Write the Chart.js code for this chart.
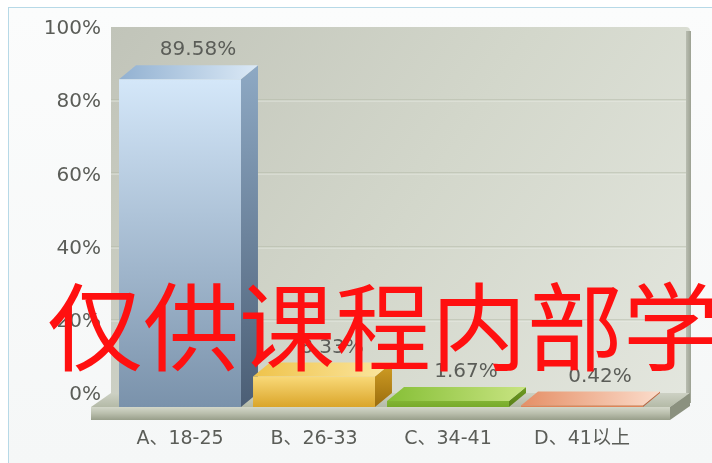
<!DOCTYPE html>
<html><head><meta charset="utf-8">
<script src="https://cdn.jsdelivr.net/npm/chart.js@4.4.1/dist/chart.umd.min.js"></script>
<style>
html,body{margin:0;padding:0;background:#fff;}
#wrap{position:relative;width:712px;height:463px;overflow:hidden;}
#frame{position:absolute;left:8px;top:7px;right:0;bottom:0;border-left:1px solid #b7d9e7;border-top:1px solid #b7d9e7;background:linear-gradient(#fbfcfc,#f5f7f7);}
#c{position:absolute;left:0;top:0;}
#wm{position:absolute;left:47px;top:274px;font:96px/1 "Noto Sans CJK SC",sans-serif;color:#ff1010;white-space:nowrap;pointer-events:none;}
</style></head><body>
<div id="wrap"><div id="frame"></div><canvas id="c" width="712" height="463"></canvas><div id="wm">仅供课程内部学</div></div>
<script>
const categories = ['A、18-25', 'B、26-33', 'C、34-41', 'D、41以上'];
const percentages = [89.58, 8.33, 1.67, 0.42];
const valueLabels = ['89.58%', '8.33%', '1.67%', '0.42%'];
const yTickValues = [0, 20, 40, 60, 80, 100];

const DX = 17, DY = -14;
const FONT = '"DejaVu Sans", "Noto Sans CJK SC", sans-serif';
const palette = [
  {front:['#d4e7f9','#7a92ab'], side:['#8ea9c4','#4b5e75'], top:['#92b1d1','#dbe9f6']},
  {front:['#f9d978','#daa52a'], side:['#d29f25','#9b6d0d'], top:['#efc34a','#fbe7a2']},
  {front:['#9ccc4a','#77aa2a'], side:['#6e9d22','#587f18'], top:['#86bf36','#c8e482']},
  {front:['#eea27c','#df8457'], side:['#c9704a','#b05f3e'], top:['#e58f66','#fbdccb']}
];

function frontColor(c) {
  const chart = c.chart;
  const p = palette[c.dataIndex];
  if (!chart.chartArea || !chart.scales.y) return p.front[1];
  const ys = chart.scales.y;
  const top = ys.getPixelForValue(percentages[c.dataIndex]);
  const bot = ys.getPixelForValue(0);
  const g = chart.ctx.createLinearGradient(0, Math.min(top, bot - 20), 0, bot);
  g.addColorStop(0, p.front[0]);
  g.addColorStop(1, p.front[1]);
  return g;
}

const scene3d = {
  id: 'scene3d',
  beforeDraw(chart) {
    const ctx = chart.ctx, a = chart.chartArea, ys = chart.scales.y;
    const L = a.left - 2, R = a.right + 41;
    const T = ys.getPixelForValue(100) + DY, B = ys.getPixelForValue(0) + DY;
    ctx.save();
    const g = ctx.createLinearGradient(L, T, R, B + 30);
    g.addColorStop(0, '#c1c4b9');
    g.addColorStop(0.5, '#d3d7cb');
    g.addColorStop(1, '#e4e7df');
    ctx.fillStyle = g;
    ctx.beginPath();
    ctx.moveTo(L, T);
    ctx.lineTo(R - 4, T);
    ctx.quadraticCurveTo(R, T, R, T + 4);
    ctx.lineTo(R, B + 10);
    ctx.lineTo(L, B + 10);
    ctx.closePath();
    ctx.fill();
    const sg = ctx.createLinearGradient(R - 4, 0, R + 1, 0);
    sg.addColorStop(0, '#b9bdb1');
    sg.addColorStop(1, '#9da293');
    ctx.fillStyle = sg;
    ctx.fillRect(R - 4, T + 4, 5, B - T + 6);
    yTickValues.forEach(v => {
      if (v === 0 || v === 100) return;
      const y = Math.round(ys.getPixelForValue(v) + DY) + 0.5;
      ctx.strokeStyle = '#b3b9a7';
      ctx.lineWidth = 1;
      ctx.beginPath(); ctx.moveTo(L, y - 0.5); ctx.lineTo(R - 4, y - 0.5); ctx.stroke();
      ctx.strokeStyle = 'rgba(240,242,236,0.7)';
      ctx.beginPath(); ctx.moveTo(L, y + 0.5); ctx.lineTo(R - 4, y + 0.5); ctx.stroke();
    });
    const FB = ys.getPixelForValue(0);
    const FL = a.left - 22, FR = a.right + 21;
    const ft = ctx.createLinearGradient(0, B, 0, FB);
    ft.addColorStop(0, '#cdd1c4');
    ft.addColorStop(1, '#b4baa7');
    ctx.fillStyle = ft;
    ctx.beginPath();
    ctx.moveTo(FL, FB); ctx.lineTo(FL + 20, B); ctx.lineTo(R, B); ctx.lineTo(FR, FB);
    ctx.closePath(); ctx.fill();
    const ff = ctx.createLinearGradient(0, FB, 0, FB + 13);
    ff.addColorStop(0, '#d3d7c9');
    ff.addColorStop(0.5, '#b9beac');
    ff.addColorStop(1, '#989e8a');
    ctx.fillStyle = ff;
    ctx.fillRect(FL, FB, FR - FL, 13);
    ctx.fillStyle = '#8b917f';
    ctx.beginPath();
    ctx.moveTo(FR, FB); ctx.lineTo(R, B); ctx.lineTo(R, B + 13); ctx.lineTo(FR, FB + 13);
    ctx.closePath(); ctx.fill();
    ctx.restore();
  },
  beforeDatasetsDraw(chart) {
    const ctx = chart.ctx;
    const meta = chart.getDatasetMeta(0);
    ctx.save();
    meta.data.forEach((el, i) => {
      const p = palette[i];
      const w = el.width, xl = el.x - w / 2, xr = el.x + w / 2;
      const yt = el.y, yb = el.base;
      const sg = ctx.createLinearGradient(0, yt + DY, 0, yb);
      sg.addColorStop(0, p.side[0]);
      sg.addColorStop(1, p.side[1]);
      ctx.fillStyle = sg;
      ctx.beginPath();
      ctx.moveTo(xr, yt); ctx.lineTo(xr + DX, yt + DY); ctx.lineTo(xr + DX, yb + DY); ctx.lineTo(xr, yb);
      ctx.closePath(); ctx.fill();
      const tg = ctx.createLinearGradient(xl, 0, xr + DX, 0);
      tg.addColorStop(0, p.top[0]);
      tg.addColorStop(1, p.top[1]);
      ctx.fillStyle = tg;
      ctx.beginPath();
      ctx.moveTo(xl, yt); ctx.lineTo(xl + DX, yt + DY); ctx.lineTo(xr + DX, yt + DY); ctx.lineTo(xr, yt);
      ctx.closePath(); ctx.fill();
    });
    ctx.restore();
  },
  afterDatasetsDraw(chart) {
    const ctx = chart.ctx;
    const meta = chart.getDatasetMeta(0);
    ctx.save();
    ctx.font = '20px ' + FONT;
    ctx.fillStyle = '#5b5d58';
    ctx.textAlign = 'center';
    ctx.textBaseline = 'middle';
    meta.data.forEach((el, i) => {
      ctx.fillText(valueLabels[i], el.x + 18, el.y + DY - 15);
    });
    ctx.restore();
  }
};

new Chart(document.getElementById('c'), {
  type: 'bar',
  data: {
    labels: categories,
    datasets: [{
      data: percentages,
      backgroundColor: frontColor,
      borderWidth: 0,
      barPercentage: 0.91,
      categoryPercentage: 1
    }]
  },
  options: {
    responsive: false,
    animation: false,
    layout: { padding: { top: 41, right: 63, left: 0, bottom: 0 } },
    plugins: { legend: { display: false }, tooltip: { enabled: false } },
    scales: {
      x: {
        grid: { display: false, drawTicks: false },
        border: { display: false },
        ticks: { font: { size: 19, family: FONT }, color: '#5b5d58', padding: 21, maxRotation: 0, autoSkip: false },
        afterFit(s) { s.height = 56; }
      },
      y: {
        min: 0, max: 100,
        afterBuildTicks(s) { s.ticks = yTickValues.map(v => ({ value: v })); },
        grid: { display: false, drawTicks: false },
        border: { display: false },
        ticks: { font: { size: 20, family: FONT }, color: '#5b5d58', padding: 12, labelOffset: DY + 2,
                 callback: v => v + '%' },
        afterFit(s) { s.width = 113; }
      }
    }
  },
  plugins: [scene3d]
});
</script>
</body></html>
